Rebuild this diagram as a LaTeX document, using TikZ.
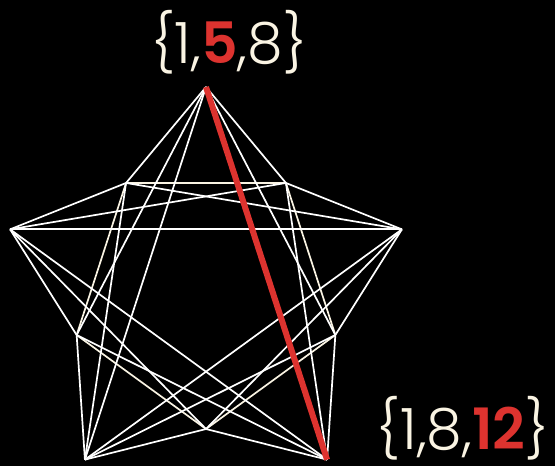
\documentclass[tikz,border=0pt]{standalone}
\usepackage{fontspec}
\setmainfont{Poppins}[UprightFont=* Light, BoldFont=* SemiBold]
\definecolor{cream}{RGB}{250,244,227}
\definecolor{hlred}{RGB}{221,51,47}
\tikzset{
  edge/.style={white, line width=1.7pt},
  rim/.style={cream, line width=1.7pt},
  hot/.style={hlred, line width=6pt},
  lbl/.style={text=cream, inner sep=0pt, font=\fontsize{57}{60}\selectfont}
}
\begin{document}
\begin{tikzpicture}[x=1pt, y=1pt]
        % Sfondo
        \fill[black] (0,0) rectangle (555,466);
        \useasboundingbox (0,0) rectangle (555,466);

        % Vertici esterni e interni
        \begin{scope}[shift={(206,173)}]
            \foreach \k/\a in {1/90, 2/162, 3/234, 4/306, 5/18} {
                \coordinate (o\k) at (\a:206);
            }
            \foreach \k/\a in {1/126, 2/198, 3/270, 4/342, 5/54} {
                \coordinate (i\k) at (\a:136);
            }
        \end{scope}

        % Pentagono interno
        \foreach \a/\b in {i1/i2, i2/i3, i3/i4, i4/i5, i5/i1} {
            \draw[rim] (\a) -- (\b);
        }

        % Stella esterna
        \foreach \a/\b in {o1/o3, o2/o4, o3/o5, o5/o2} {
            \draw[edge] (\a) -- (\b);
        }

        % Lati esterno-interno
        \foreach \a/\b in {o1/i1, o1/i2, o1/i4, o1/i5,
                           o2/i1, o2/i2, o2/i3, o2/i5,
                           o3/i1, o3/i2, o3/i3, o3/i4,
                           o4/i2, o4/i3, o4/i4, o4/i5,
                           o5/i1, o5/i3, o5/i4, o5/i5} {
            \draw[edge] (\a) -- (\b);
        }

        % Lato evidenziato
        \draw[hot] (o1) -- (o4);

        % Etichette
        \node[lbl] (s158) at (229,424) {\{1,\textcolor{hlred}{\bfseries 5},8\}};
        \node[lbl] (s1812) at (463,38) {\{1,8,\textcolor{hlred}{\bfseries 12}\}};

    \end{tikzpicture}
\end{document}
